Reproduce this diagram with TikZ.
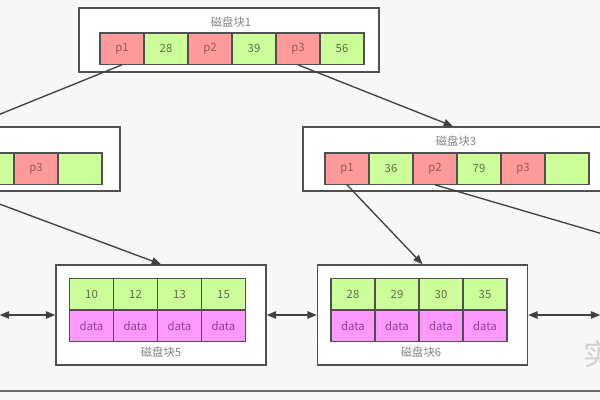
\documentclass[tikz,border=0pt]{standalone}
\usepackage{fontspec}
\setmainfont{Noto Sans CJK SC}
\usetikzlibrary{arrows.meta}
\definecolor{bgc}{HTML}{F7F7F7}
\definecolor{edgec}{HTML}{505050}
\definecolor{redc}{HTML}{FF9A9A}
\definecolor{greenc}{HTML}{CCFF99}
\definecolor{pinkc}{HTML}{FF99FF}
\definecolor{redt}{HTML}{9E5757}
\definecolor{greent}{HTML}{5E6E45}
\definecolor{pinkt}{HTML}{8E3E8E}
\definecolor{labc}{HTML}{858585}
\definecolor{linec}{HTML}{404040}
\tikzset{
  blk/.style={draw=edgec, line width=1.1pt, fill=white, inner sep=0pt},
  cell/.style={draw=edgec, line width=1pt, minimum width=33pt, minimum height=23.5pt, inner sep=0pt, font=\fontsize{8.5}{10}\selectfont},
  pcell/.style={cell, fill=redc, text=redt},
  kcell/.style={cell, fill=greenc, text=greent},
  dcell/.style={cell, fill=pinkc, text=pinkt},
  lab/.style={text=labc, font=\fontsize{8.5}{10}\selectfont, inner sep=0pt},
  link/.style={draw=linec, line width=1pt, -{Triangle[length=7pt,width=5.5pt]}},
  dlink/.style={draw=linec, line width=1.1pt, {Triangle[length=7pt,width=5.5pt]}-{Triangle[length=7pt,width=5.5pt]}},
}
\begin{document}
\begin{tikzpicture}[x=0.75pt,y=-0.75pt]
\useasboundingbox (0,0) rectangle (600,400);
\clip (0,0) rectangle (600,400);
\fill[bgc] (0,0) rectangle (600,400);
% frame line at bottom
\draw[draw=gray!85!black, line width=1.5pt] (0,391) -- (600,391);
% watermark
\node[text=gray!35, font=\fontsize{22}{24}\selectfont, inner sep=0pt] (wm) at (598,354) {实};

% block 1
\node[blk, minimum width=225pt, minimum height=48pt] (b1) at (229,40) {};
\node[lab] (l1) at (231,22) {磁盘块1};
\node[pcell] (b1c1) at (122,48.5) {p1};
\node[kcell] (b1c2) at (166,48.5) {28};
\node[pcell] (b1c3) at (210,48.5) {p2};
\node[kcell] (b1c4) at (254,48.5) {39};
\node[pcell] (b1c5) at (298,48.5) {p3};
\node[kcell] (b1c6) at (342,48.5) {56};

% block 2 (mostly outside the frame)
\node[blk, minimum width=225pt, minimum height=48pt] (b2) at (-30,159) {};
\node[pcell] (b2c1) at (-140,168.5) {};
\node[kcell] (b2c2) at (-96,168.5) {};
\node[pcell] (b2c3) at (-52,168.5) {};
\node[kcell] (b2c4) at (-8,168.5) {};
\node[pcell] (b2c5) at (36,168.5) {p3};
\node[kcell] (b2c6) at (80,168.5) {};

% block 3
\node[blk, minimum width=225pt, minimum height=48pt] (b3) at (453,159) {};
\node[lab] (l3) at (456,141) {磁盘块3};
\node[pcell] (b3c1) at (347,168.5) {p1};
\node[kcell] (b3c2) at (391,168.5) {36};
\node[pcell] (b3c3) at (435,168.5) {p2};
\node[kcell] (b3c4) at (479,168.5) {79};
\node[pcell] (b3c5) at (523,168.5) {p3};
\node[kcell] (b3c6) at (567,168.5) {};

% bottom blocks
\node[blk, minimum width=157.5pt, minimum height=75pt] (b4) at (-106,315) {};
\node[blk, minimum width=157.5pt, minimum height=75pt] (b5) at (161,315) {};
\node[blk, minimum width=157.5pt, minimum height=75pt] (b6) at (422.5,315) {};
\node[blk, minimum width=157.5pt, minimum height=75pt] (b7) at (706,315) {};

\node[lab] (l5) at (161,352) {磁盘块5};
\node[kcell] (b5k1) at (91.5,294.3) {10};
\node[kcell] (b5k2) at (135.5,294.3) {12};
\node[kcell] (b5k3) at (179.5,294.3) {13};
\node[kcell] (b5k4) at (223.5,294.3) {15};
\node[dcell] (b5d1) at (91.5,325.7) {data};
\node[dcell] (b5d2) at (135.5,325.7) {data};
\node[dcell] (b5d3) at (179.5,325.7) {data};
\node[dcell] (b5d4) at (223.5,325.7) {data};

\node[lab] (l6) at (421,352) {磁盘块6};
\node[kcell] (b6k1) at (353,294.3) {28};
\node[kcell] (b6k2) at (397,294.3) {29};
\node[kcell] (b6k3) at (441,294.3) {30};
\node[kcell] (b6k4) at (485,294.3) {35};
\node[dcell] (b6d1) at (353,325.7) {data};
\node[dcell] (b6d2) at (397,325.7) {data};
\node[dcell] (b6d3) at (441,325.7) {data};
\node[dcell] (b6d4) at (485,325.7) {data};

% pointers
\draw[link] (b1c1.south) -- (b2.north);
\draw[link] (b1c5.south) -- (b3.north);
\draw[link] (b2c3.south) -- (b5.north);
\draw[link] (b3c1.south) -- (b6.north);
\draw[link] (b3c3.south) -- (b7.north);

% leaf links
\draw[dlink] (b4.east) -- (b5.west);
\draw[dlink] (b5.east) -- (b6.west);
\draw[dlink] (b6.east) -- (b7.west);
\end{tikzpicture}
\end{document}
